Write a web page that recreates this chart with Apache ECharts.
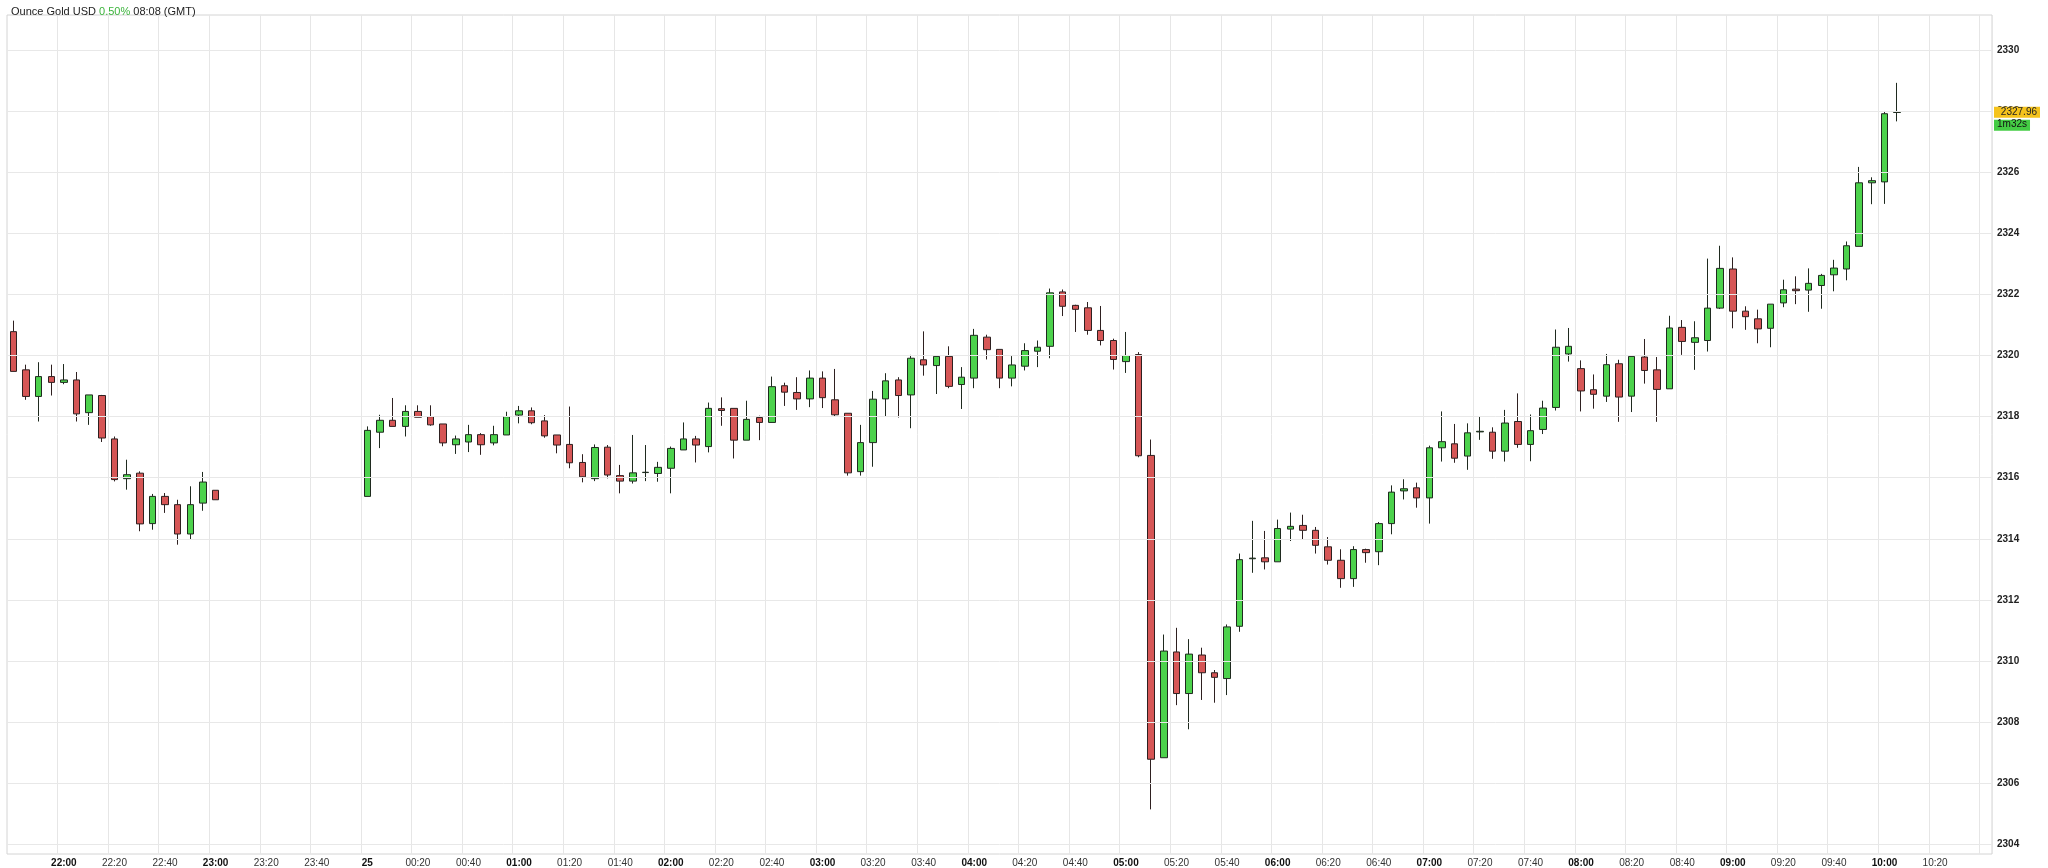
<!DOCTYPE html>
<html><head><meta charset="utf-8">
<script src="https://cdn.jsdelivr.net/npm/echarts@6/dist/echarts.min.js"></script>
<style>html,body{margin:0;padding:0;background:#fff}#c{width:2048px;height:868px}</style>
</head><body><div id="c"></div>
<script>
// 5-minute candles from 21:40 to 10:05 (null = no trading)
const opens = [2320.78,2319.53,2318.66,2319.31,2319.12,2319.20,2318.13,2318.69,2317.27,2315.97,2316.15,2314.50,2315.39,2315.12,2314.16,2315.17,2315.59,
null,null,null,null,null,null,null,null,null,null,null,
2315.39,2317.49,2317.88,2317.68,2318.17,2318.00,2317.76,2317.08,2317.17,2317.41,2317.14,2317.40,
2318.05,2318.19,2317.86,2317.40,2317.09,2316.50,2315.97,2317.00,2316.07,2315.89,2316.17,2316.14,
2316.31,2316.91,2317.27,2317.02,2318.26,2318.27,2317.23,2317.97,2317.81,2319.01,2318.79,2318.58,
2319.26,2318.55,2318.11,2316.20,2317.15,2318.58,2319.20,2318.71,2319.86,2319.67,2319.97,2319.05,
2319.26,2320.60,2320.20,2319.26,2319.65,2320.14,2320.30,2322.08,2321.64,2321.56,2320.82,2320.49,
2319.80,2320.03,2316.73,2306.84,2310.30,2308.94,2310.20,2309.62,2309.43,2311.14,2313.35,2313.38,
2313.25,2314.32,2314.44,2314.28,2313.74,2313.30,2312.70,2313.65,2313.58,2314.50,2315.57,2315.67,
2315.34,2316.98,2317.11,2316.71,2317.50,2317.49,2316.87,2317.84,2317.09,2317.58,2318.30,2320.05,
2319.57,2318.88,2318.67,2319.73,2318.67,2319.95,2319.53,2318.91,2320.92,2320.43,2320.49,2321.55,
2322.83,2321.45,2321.20,2320.89,2321.72,2322.17,2322.14,2322.29,2322.64,2322.83,2323.57,2325.65,
2325.68,2327.95];
const closes = [2319.48,2318.66,2319.31,2319.12,2319.20,2318.09,2318.71,2317.30,2315.94,2316.10,2314.49,2315.39,2315.12,2314.16,2315.12,2315.86,2315.28,
null,null,null,null,null,null,null,null,null,null,null,
2317.55,2317.88,2317.68,2318.17,2317.98,2317.73,2317.14,2317.27,2317.41,2317.08,2317.41,2318.00,
2318.19,2317.80,2317.37,2317.07,2316.49,2316.03,2316.99,2316.09,2315.89,2316.16,2316.18,2316.34,
2316.96,2317.27,2317.07,2318.27,2318.20,2317.23,2317.91,2317.81,2318.98,2318.80,2318.58,2319.26,
2318.62,2318.06,2316.16,2317.15,2318.57,2319.17,2318.69,2319.91,2319.69,2319.97,2318.99,2319.29,
2320.66,2320.19,2319.26,2319.69,2320.16,2320.27,2322.05,2321.61,2321.51,2320.82,2320.49,2319.87,
2320.00,2316.72,2306.79,2310.33,2308.94,2310.23,2309.62,2309.47,2311.12,2313.32,2313.37,2313.25,
2314.34,2314.41,2314.28,2313.79,2313.30,2312.70,2313.65,2313.55,2314.50,2315.53,2315.64,2315.34,
2316.98,2317.18,2316.64,2317.47,2317.52,2316.87,2317.79,2317.09,2317.54,2318.28,2320.27,2320.30,
2318.84,2318.73,2319.70,2318.64,2319.97,2319.51,2318.89,2320.90,2320.46,2320.58,2321.55,2322.85,
2321.45,2321.27,2320.87,2321.68,2322.15,2322.12,2322.36,2322.62,2322.86,2323.59,2325.65,2325.72,
2327.91,2327.96];
const lows = [2319.48,2318.55,2317.84,2318.69,2319.06,2317.84,2317.73,2317.17,2315.88,2315.61,2314.25,2314.30,2314.85,2313.81,2313.98,2314.92,2315.28,
null,null,null,null,null,null,null,null,null,null,null,
2315.39,2316.97,2317.68,2317.35,2317.98,2317.70,2317.03,2316.78,2316.84,2316.75,2317.06,2317.40,
2317.78,2317.75,2317.31,2316.80,2316.31,2315.85,2315.89,2315.98,2315.49,2315.81,2315.89,2315.87,
2315.49,2316.91,2316.50,2316.83,2317.70,2316.63,2317.23,2317.23,2317.81,2318.35,2318.22,2318.31,
2318.28,2317.99,2316.07,2316.07,2316.36,2318.00,2317.97,2317.62,2319.34,2318.74,2318.93,2318.25,
2318.93,2319.87,2318.93,2318.99,2319.51,2319.62,2319.91,2321.29,2320.77,2320.68,2320.33,2319.54,
2319.43,2316.67,2305.15,2306.84,2308.56,2307.77,2308.73,2308.64,2308.89,2310.96,2312.89,2313.00,
2313.25,2313.93,2313.99,2313.52,2313.16,2312.40,2312.43,2313.22,2313.14,2314.15,2315.29,2315.02,
2314.50,2316.53,2316.49,2316.26,2317.24,2316.62,2316.53,2316.98,2316.54,2317.43,2318.20,2319.80,
2318.17,2318.26,2318.48,2317.83,2318.15,2319.08,2317.83,2318.91,2320.02,2319.53,2320.13,2321.52,
2320.89,2320.84,2320.40,2320.27,2321.58,2321.68,2321.43,2321.53,2322.10,2322.46,2323.57,2324.95,
2324.96,2327.66];
const highs = [2321.14,2319.70,2319.78,2319.70,2319.72,2319.46,2318.71,2318.71,2317.35,2316.59,2316.21,2315.47,2315.50,2315.28,2315.72,2316.19,2315.59,
null,null,null,null,null,null,null,null,null,null,null,
2317.68,2318.06,2318.61,2318.37,2318.37,2318.37,2317.76,2317.38,2317.73,2317.46,2317.70,2318.16,
2318.35,2318.30,2318.05,2317.40,2318.33,2316.77,2317.09,2317.07,2316.42,2317.40,2317.07,2316.52,
2317.02,2317.81,2317.37,2318.46,2318.63,2318.27,2318.52,2318.03,2319.31,2319.11,2319.29,2319.51,
2319.48,2319.56,2318.11,2317.73,2318.84,2319.42,2319.29,2320.02,2320.79,2319.97,2320.30,2319.62,
2320.87,2320.68,2320.20,2319.98,2320.40,2320.49,2322.19,2322.16,2321.66,2321.75,2321.62,2320.55,
2320.77,2320.11,2317.25,2310.87,2311.09,2310.72,2310.44,2309.71,2311.20,2313.52,2314.59,2314.26,
2314.63,2314.86,2314.79,2314.39,2314.06,2313.66,2313.76,2313.68,2314.55,2315.75,2315.95,2315.84,
2317.05,2318.17,2317.76,2317.78,2318.00,2317.65,2318.22,2318.76,2318.07,2318.52,2320.85,2320.90,
2319.84,2319.38,2320.05,2319.86,2319.97,2320.54,2319.95,2321.30,2321.16,2321.12,2323.17,2323.59,
2323.21,2321.61,2321.50,2321.68,2322.48,2322.59,2322.85,2322.67,2323.13,2323.73,2326.17,2325.83,
2328.00,2328.92];
const yTicks = [2304,2306,2308,2310,2312,2314,2316,2318,2320,2322,2324,2326,2328,2330];
const lastPrice = 2327.96;
const countdown = '1m32s';

// category labels: 5-minute slots 21:40 .. 10:40
const categories = [];
for (let m = 21*60+40; m <= 24*60+10*60+40; m += 5) {
  const mm = m % (24*60);
  categories.push(String(Math.floor(mm/60)).padStart(2,'0') + ':' + String(mm%60).padStart(2,'0'));
}
const candles = categories.map((c,i) => i < opens.length && opens[i] !== null
  ? [opens[i], closes[i], lows[i], highs[i]] : '-');
const isLabel = (i) => { const mm = +categories[i].slice(3); return mm % 20 === 0 && i > 0 && i < categories.length-1; };

const chart = echarts.init(document.getElementById('c'));
const FONT = 'Liberation Sans, Arial, sans-serif';
chart.setOption({
  animation: false,
  backgroundColor: '#fff',
  textStyle: {fontFamily: FONT},
  title: {
    left: 6, top: 1,
    text: '{a|Ounce Gold USD }{g|0.50%}{a| 08:08 (GMT)}',
    textStyle: {fontWeight: 'normal', rich: {a: {fontSize: 11, fontWeight: 'normal', color: '#222', fontFamily: FONT}, g: {fontSize: 11, fontWeight: 'normal', color: '#3cb43c', fontFamily: FONT}}}
  },
  grid: {left: 7, right: 56, top: 15, bottom: 13, show: true, borderColor: '#d4d4d4', borderWidth: 1},
  xAxis: {
    type: 'category', data: categories, boundaryGap: true,
    axisLine: {show: false}, axisTick: {show: false},
    splitLine: {show: true, interval: (i) => +categories[i].slice(3) % 20 === 0 && i > 0, lineStyle: {color: '#e6e6e6', width: 1}},
    axisLabel: {
      interval: (i) => isLabel(i), margin: 4, fontSize: 10, color: '#333', fontFamily: FONT,
      formatter: (v) => v === '00:00' ? '{b|25}' : (v.endsWith(':00') ? '{b|' + v + '}' : v),
      rich: {b: {fontWeight: 'bold', fontSize: 10, color: '#111', fontFamily: FONT}}
    }
  },
  yAxis: {
    type: 'value', position: 'right', min: 2303.69, max: 2331.14, scale: true,
    axisLine: {show: false}, axisTick: {show: false}, axisLabel: {show: false}, splitLine: {show: false}
  },
  series: [{
    type: 'candlestick', data: candles, barWidth: 7,
    itemStyle: {color: '#4cd24c', color0: '#d65656', borderColor: '#1f2a1f', borderColor0: '#2e2020', borderWidth: 1},
    markLine: {
      silent: true, symbol: 'none', animation: false,
      data: yTicks.map(v => ({yAxis: v, lineStyle: {color: '#e8e8e8', width: 1, type: 'solid'},
        label: {show: true, position: 'end', distance: 5, formatter: String(v), fontSize: 10, fontWeight: 'bold', color: '#222', fontFamily: FONT}}))
    }
  }, {
    type: 'line', data: [], silent: true,
    markLine: {
      silent: true, symbol: 'none', animation: false,
      data: [{yAxis: lastPrice, lineStyle: {color: 'rgba(0,0,0,0)', width: 1},
        label: {show: true, position: 'end', distance: 2,
          formatter: '{e|}\n{y|' + lastPrice.toFixed(2) + '}\n{g|' + countdown + '}',
          lineHeight: 13,
          rich: {
            e: {height: 13, lineHeight: 13},
            y: {backgroundColor: '#f5c31c', color: '#222', fontSize: 10, fontFamily: FONT, width: 40, align: 'right', padding: [1, 3, 0, 3], lineHeight: 13},
            g: {backgroundColor: '#44cc44', color: '#111', fontSize: 10, fontFamily: FONT, padding: [0, 3, 1, 3], lineHeight: 13}
          }}}]
    }
  }]
});
</script></body></html>
